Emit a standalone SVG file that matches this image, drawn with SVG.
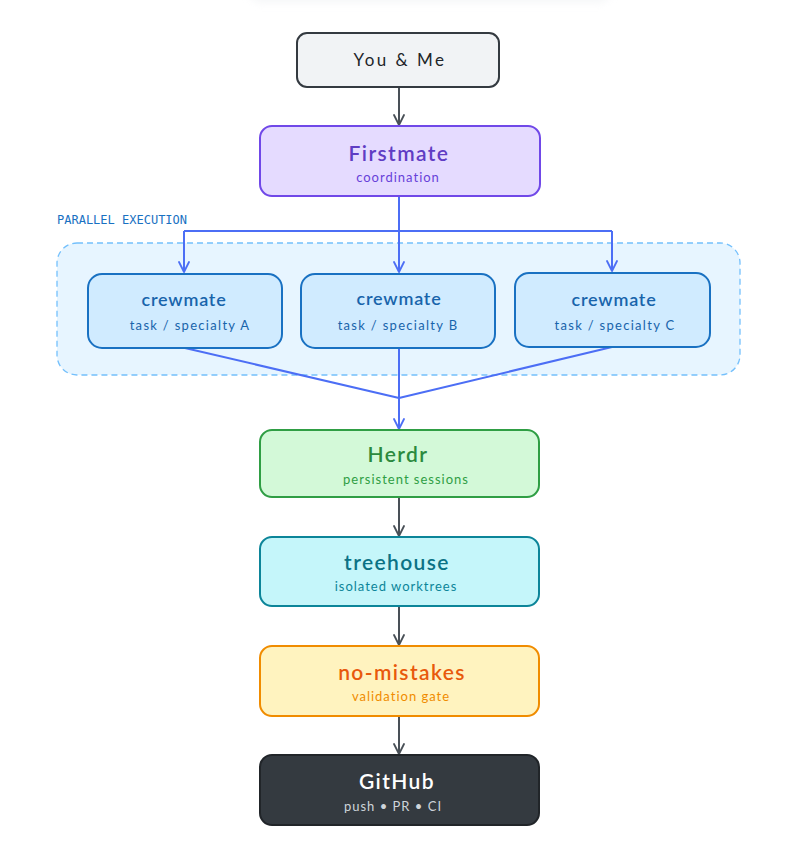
<svg xmlns="http://www.w3.org/2000/svg" width="801" height="861" viewBox="0 0 801 861">
<defs>
<marker id="ag" viewBox="0 0 12 12" refX="11" refY="6" markerWidth="12" markerHeight="12" markerUnits="userSpaceOnUse" orient="auto">
<path d="M1,1 L11,6 L1,11" fill="none" stroke="#495057" stroke-width="1.8" stroke-linecap="round" stroke-linejoin="round"/>
</marker>
<marker id="ab" viewBox="0 0 12 12" refX="11" refY="6" markerWidth="12" markerHeight="12" markerUnits="userSpaceOnUse" orient="auto">
<path d="M1,1 L11,6 L1,11" fill="none" stroke="#4c6ef5" stroke-width="1.8" stroke-linecap="round" stroke-linejoin="round"/>
</marker>
<filter id="blur" x="-20%" y="-200%" width="140%" height="500%"><feGaussianBlur stdDeviation="4"/></filter>
</defs>
<style>
text{font-family:"Lato","Open Sans",sans-serif;text-anchor:middle}
.t{font-size:21px;font-weight:600;letter-spacing:1.4px}
.s{font-size:13px;letter-spacing:1px}
.ct{font-size:18px;font-weight:600;fill:#1864ab;letter-spacing:0.8px}
.cs{font-size:13px;fill:#1864ab;letter-spacing:1.3px}
.box{stroke-width:2}
.g{stroke:#495057;stroke-width:2;fill:none;marker-end:url(#ag)}
.b{stroke:#4c6ef5;stroke-width:2;fill:none}
.ba{marker-end:url(#ab)}
</style>
<rect width="801" height="861" fill="#ffffff"/>
<rect x="250" y="-20" width="360" height="22" rx="10" fill="#e9ecef" opacity="0.5" filter="url(#blur)"/>

<g id="parallel-group">
<rect x="57" y="243" width="683" height="132" rx="20" fill="#e7f5ff" stroke="#74c0fc" stroke-width="1.3" stroke-dasharray="6 4"/>
<text x="57" y="224" style="font-family:'DejaVu Sans Mono','Liberation Mono',monospace;font-size:12px;text-anchor:start;fill:#1971c2">PARALLEL EXECUTION</text>
</g>

<g id="connectors">
<path class="g" d="M399,87 L399,125"/>
<path class="b" d="M399,196 L399,231"/>
<path class="b" d="M184,231 L612,231"/>
<path class="b ba" d="M184,231 L184,272"/>
<path class="b ba" d="M399,231 L399,272"/>
<path class="b ba" d="M612,231 L612,271"/>
<path class="b" d="M185,348 L399,398"/>
<path class="b" d="M399,348 L399,398"/>
<path class="b" d="M612,347 L399,398"/>
<path class="b ba" d="M399,398 L399,429"/>
<path class="g" d="M399,497 L399,536"/>
<path class="g" d="M399,606 L399,645"/>
<path class="g" d="M399,716 L399,754"/>
</g>

<g id="you-me">
<rect class="box" x="297" y="33" width="202" height="54" rx="10" fill="#f1f3f5" stroke="#343a40"/>
<text x="400" y="66" style="font-size:17px;fill:#212529;letter-spacing:2.5px">You &amp; Me</text>
</g>

<g id="firstmate">
<rect class="box" x="260" y="126" width="280" height="70" rx="12" fill="#e5dbff" stroke="#7048e8"/>
<text class="t" x="399" y="161" fill="#5f3dc4">Firstmate</text>
<text class="s" x="398" y="182" fill="#6741d9">coordination</text>
</g>

<g id="crewmate-a">
<rect class="box" x="88" y="274" width="194" height="74" rx="14" fill="#d0ebff" stroke="#1971c2"/>
<text class="ct" x="184" y="306">crewmate</text>
<text class="cs" x="190" y="330">task / specialty A</text>
</g>

<g id="crewmate-b">
<rect class="box" x="301" y="274" width="194" height="74" rx="14" fill="#d0ebff" stroke="#1971c2"/>
<text class="ct" x="399" y="305">crewmate</text>
<text class="cs" x="398" y="330">task / specialty B</text>
</g>

<g id="crewmate-c">
<rect class="box" x="515" y="273" width="195" height="74" rx="14" fill="#d0ebff" stroke="#1971c2"/>
<text class="ct" x="614" y="306">crewmate</text>
<text class="cs" x="615" y="330">task / specialty C</text>
</g>

<g id="herdr">
<rect class="box" x="260" y="430" width="279" height="67" rx="12" fill="#d3f9d8" stroke="#2f9e44"/>
<text class="t" x="398" y="462" fill="#2b8a3e">Herdr</text>
<text class="s" x="406" y="484" fill="#2f9e44">persistent sessions</text>
</g>

<g id="treehouse">
<rect class="box" x="260" y="537" width="279" height="69" rx="12" fill="#c5f6fa" stroke="#0c8599"/>
<text class="t" x="397" y="570" fill="#0b7285">treehouse</text>
<text class="s" x="396" y="591" fill="#0c8599">isolated worktrees</text>
</g>

<g id="no-mistakes">
<rect class="box" x="260" y="646" width="279" height="70" rx="12" fill="#fff3bf" stroke="#f08c00"/>
<text class="t" x="402" y="680" fill="#e8590c">no-mistakes</text>
<text class="s" x="401" y="701" fill="#f08c00">validation gate</text>
</g>

<g id="github">
<rect class="box" x="260" y="755" width="279" height="70" rx="12" fill="#343a40" stroke="#212529"/>
<text class="t" x="397" y="789" fill="#ffffff">GitHub</text>
<text class="s" x="393" y="811" fill="#ced4da">push • PR • CI</text>
</g>
</svg>
